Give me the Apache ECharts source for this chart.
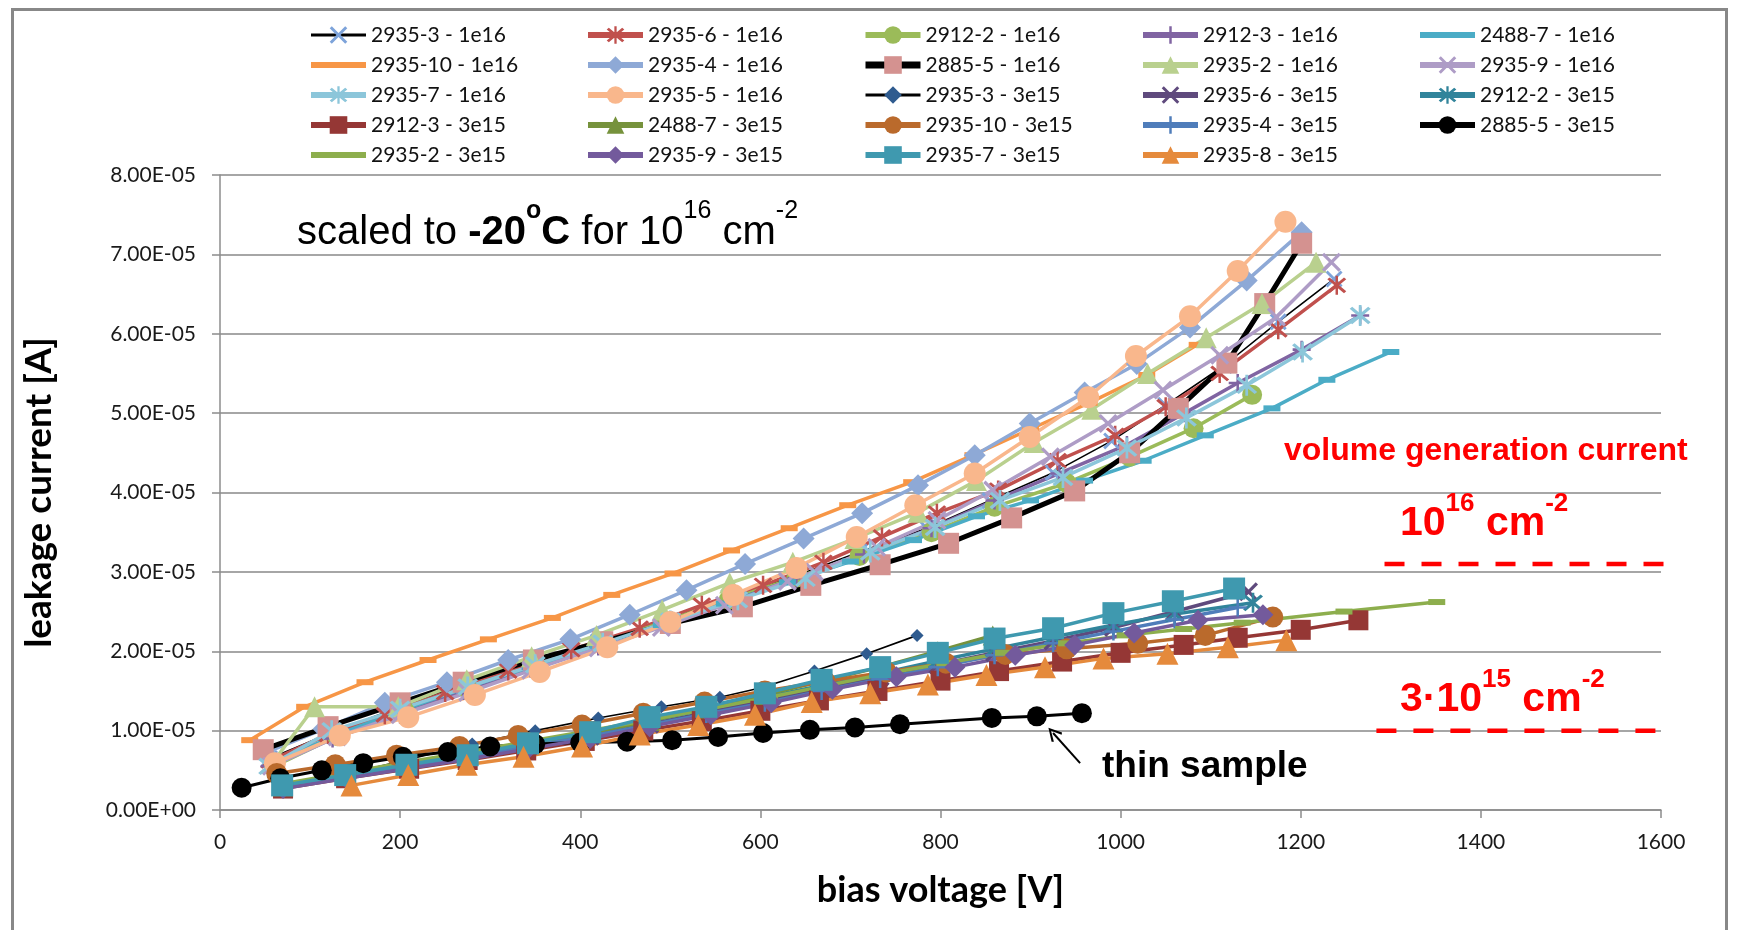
<!DOCTYPE html>
<html>
<head>
<meta charset="utf-8">
<script src="https://cdn.jsdelivr.net/npm/echarts@6/dist/echarts.min.js"></script>
<style>
html,body{margin:0;padding:0;background:#fff;}
#c{width:1739px;height:930px;}
</style>
</head>
<body>
<div id="c"></div>
<script>
// ---- data: [bias voltage V, leakage current in units of 1e-5 A] ----
const d_2935_3_1e16 = [[55,0.65],[125,0.98],[200,1.3],[270,1.57],[345,1.85],[420,2.12],[495,2.4],[565,2.68],[640,2.95],[710,3.25],[785,3.55],[855,3.9],[925,4.25],[990,4.65],[1050,5.1],[1115,5.6],[1175,6.15],[1237,6.69]];
const d_2935_6_1e16 = [[55,0.62],[120,0.95],[183,1.2],[250,1.48],[320,1.75],[390,2.02],[466,2.29],[535,2.58],[603,2.83],[670,3.12],[735,3.44],[796,3.74],[864,4.03],[930,4.4],[994,4.72],[1050,5.08],[1110,5.5],[1175,6.05],[1240,6.61]];
const d_2912_2_1e16 = [[60,0.55],[130,0.93],[205,1.25],[275,1.53],[350,1.82],[425,2.1],[495,2.38],[565,2.65],[640,2.93],[710,3.2],[790,3.5],[860,3.82],[940,4.12],[1010,4.45],[1081,4.81],[1146,5.23]];
const d_2912_3_1e16 = [[55,0.55],[125,0.9],[200,1.2],[270,1.5],[345,1.78],[420,2.06],[495,2.35],[565,2.62],[640,2.92],[715,3.22],[790,3.55],[860,3.9],[932,4.24],[1007,4.6],[1071,5.0],[1130,5.38],[1201,5.8],[1266,6.23]];
const d_2488_7_1e16 = [[60,0.6],[130,0.95],[200,1.25],[270,1.53],[345,1.8],[420,2.07],[490,2.33],[560,2.6],[630,2.87],[700,3.13],[770,3.4],[840,3.7],[900,3.9],[960,4.15],[1025,4.4],[1094,4.72],[1168,5.06],[1229,5.42],[1300,5.77]];
const d_2935_10_1e16 = [[33,0.88],[94,1.3],[161,1.61],[231,1.89],[298,2.15],[369,2.42],[435,2.71],[503,2.98],[568,3.27],[632,3.55],[697,3.84],[768,4.13],[836,4.47],[900,4.8],[965,5.13],[1029,5.48],[1085,5.86]];
const d_2935_4_1e16 = [[50,0.72],[115,1.02],[183,1.35],[252,1.61],[320,1.89],[389,2.15],[455,2.46],[518,2.77],[583,3.1],[648,3.42],[713,3.74],[775,4.09],[838,4.47],[899,4.87],[960,5.26],[1018,5.62],[1077,6.08],[1140,6.67],[1201,7.28]];
const d_2885_5_1e16 = [[48,0.76],[120,1.05],[200,1.35],[270,1.61],[348,1.89],[425,2.12],[500,2.35],[580,2.56],[656,2.83],[733,3.09],[809,3.36],[879,3.68],[949,4.02],[1010,4.5],[1064,5.06],[1118,5.63],[1160,6.38],[1201,7.14]];
const d_2935_2_1e16 = [[58,0.59],[105,1.3],[198,1.3],[274,1.64],[346,1.93],[418,2.2],[491,2.52],[566,2.86],[636,3.12],[705,3.42],[775,3.75],[840,4.15],[904,4.63],[968,5.05],[1030,5.5],[1095,5.95],[1157,6.38],[1217,6.9]];
const d_2935_9_1e16 = [[57,0.55],[130,0.92],[200,1.2],[275,1.48],[345,1.76],[420,2.04],[490,2.3],[560,2.58],[630,2.88],[660,3.0],[729,3.31],[796,3.65],[858,4.03],[922,4.45],[986,4.87],[1047,5.29],[1110,5.73],[1173,6.21],[1234,6.9]];
const d_2935_7_1e16 = [[54,0.55],[124,1.0],[200,1.27],[275,1.55],[350,1.83],[425,2.1],[500,2.38],[575,2.65],[650,2.92],[722,3.25],[794,3.56],[866,3.9],[936,4.19],[1007,4.56],[1073,4.94],[1140,5.35],[1202,5.77],[1266,6.23]];
const d_2935_5_1e16 = [[61,0.59],[133,0.94],[209,1.17],[283,1.45],[355,1.74],[430,2.05],[500,2.37],[570,2.71],[640,3.05],[707,3.44],[772,3.84],[838,4.24],[899,4.7],[964,5.2],[1017,5.72],[1077,6.22],[1130,6.79],[1183,7.41]];
const d_2935_3_3e15 = [[70,0.28],[140,0.45],[210,0.64],[280,0.83],[350,1.0],[420,1.16],[490,1.3],[555,1.42],[601,1.54],[660,1.75],[718,1.97],[774,2.2]];
const d_2935_6_3e15 = [[70,0.3],[140,0.43],[207,0.55],[275,0.67],[342,0.8],[411,0.93],[477,1.08],[540,1.23],[605,1.38],[668,1.53],[733,1.68],[797,1.83],[860,1.98],[925,2.13],[992,2.3],[1060,2.5],[1142,2.75]];
const d_2912_2_3e15 = [[70,0.3],[140,0.45],[207,0.58],[275,0.7],[342,0.83],[411,0.97],[477,1.12],[540,1.27],[605,1.42],[668,1.57],[733,1.72],[797,1.88],[860,2.03],[925,2.18],[992,2.33],[1060,2.47],[1147,2.61]];
const d_2912_3_3e15 = [[70,0.27],[140,0.4],[210,0.52],[275,0.63],[340,0.75],[405,0.87],[470,1.0],[535,1.12],[600,1.25],[665,1.38],[730,1.5],[800,1.63],[865,1.75],[935,1.87],[1000,1.98],[1070,2.08],[1130,2.17],[1200,2.27],[1264,2.39]];
const d_2488_7_3e15 = [[70,0.3],[140,0.43],[207,0.56],[275,0.69],[342,0.83],[411,0.97],[477,1.12],[540,1.28],[605,1.45],[668,1.62],[733,1.8],[797,2.0],[858,2.2]];
const d_2935_10_3e15 = [[63,0.46],[128,0.57],[196,0.69],[266,0.8],[331,0.94],[402,1.07],[470,1.22],[538,1.36],[605,1.5],[672,1.62],[740,1.74],[806,1.85],[872,1.96],[940,2.03],[1019,2.1],[1094,2.2],[1169,2.43]];
const d_2935_4_3e15 = [[70,0.29],[140,0.42],[207,0.55],[275,0.67],[342,0.8],[411,0.93],[477,1.07],[540,1.21],[605,1.35],[668,1.5],[733,1.65],[797,1.8],[860,1.95],[925,2.1],[992,2.25],[1060,2.4],[1130,2.55]];
const d_2885_5_3e15 = [[24,0.28],[67,0.4],[113,0.5],[159,0.59],[203,0.67],[253,0.73],[300,0.8],[350,0.83],[400,0.85],[452,0.86],[502,0.88],[553,0.92],[603,0.97],[655,1.01],[705,1.04],[755,1.08],[857,1.16],[907,1.18],[957,1.22]];
const d_2935_2_3e15 = [[70,0.33],[140,0.47],[205,0.6],[275,0.73],[345,0.87],[410,1.0],[475,1.13],[540,1.27],[610,1.42],[675,1.57],[740,1.72],[805,1.85],[870,1.98],[940,2.1],[1005,2.2],[1070,2.28],[1135,2.36],[1248,2.5],[1351,2.62]];
const d_2935_9_3e15 = [[70,0.27],[140,0.4],[207,0.52],[275,0.64],[342,0.77],[411,0.9],[477,1.05],[545,1.2],[612,1.35],[680,1.52],[751,1.68],[816,1.8],[883,1.95],[949,2.08],[1015,2.23],[1086,2.39],[1158,2.46]];
const d_2935_7_3e15 = [[69,0.31],[139,0.44],[207,0.57],[275,0.69],[342,0.84],[411,0.98],[477,1.17],[540,1.3],[605,1.47],[668,1.64],[733,1.8],[797,1.98],[860,2.16],[925,2.29],[992,2.48],[1058,2.63],[1126,2.79]];
const d_2935_8_3e15 = [[146,0.31],[209,0.44],[274,0.57],[337,0.67],[402,0.8],[466,0.95],[531,1.07],[594,1.2],[657,1.36],[722,1.47],[786,1.58],[851,1.7],[916,1.8],[981,1.91],[1052,1.97],[1119,2.05],[1184,2.14]];

// volume generation current reference levels (1e-5 A) drawn as dashed lines
const volGen_1e16 = [[1293,3.1],[1627,3.1]];
const volGen_3e15 = [[1284,1.0],[1618,1.0]];
// arrow pointing at the thin sample
const thinArrow = [[955,0.59],[925,0.97]];

const xTicks = {min:0, max:1600, interval:200};
const yTicks = {min:0, max:8e-5, interval:1e-5};

// ---- marker shapes ----
const SYM_X = 'path://M0,1.2 L1.2,0 L5,3.8 L8.8,0 L10,1.2 L6.2,5 L10,8.8 L8.8,10 L5,6.2 L1.2,10 L0,8.8 L3.8,5 Z';
const SYM_STAR = 'path://M0,1.2 L1.2,0 L5,3.8 L8.8,0 L10,1.2 L6.2,5 L10,8.8 L8.8,10 L5,6.2 L1.2,10 L0,8.8 L3.8,5 Z M4.35,-1 L5.65,-1 L5.65,11 L4.35,11 Z';
const SYM_PLUS = 'path://M4.3,0 L5.7,0 L5.7,4.3 L10,4.3 L10,5.7 L5.7,5.7 L5.7,10 L4.3,10 L4.3,5.7 L0,5.7 L0,4.3 L4.3,4.3 Z';
const SYM_DASH = 'path://M0,0 L10,0 L10,4 L0,4 Z';
const ICON_LINE = 'path://M0,0 L55,0 L55,6 L0,6 Z';

const S = 1e-5;
function conv(d){ return d.map(p => [p[0], p[1]*S]); }

// name, data, line color, marker color, symbol, symbol size, line width, legend line width
const seriesDefs = [
  ['2935-3 - 1e16', d_2935_3_1e16, '#000000', '#7DA3DA', SYM_X, 17, 1.6, 3],
  ['2935-6 - 1e16', d_2935_6_1e16, '#C0504D', '#C0504D', SYM_STAR, 19, 3.5, 6],
  ['2912-2 - 1e16', d_2912_2_1e16, '#9BBB59', '#9BBB59', 'circle', 20, 3.5, 6],
  ['2912-3 - 1e16', d_2912_3_1e16, '#8064A2', '#8064A2', SYM_PLUS, 18, 3.5, 6],
  ['2488-7 - 1e16', d_2488_7_1e16, '#4BACC6', '#4BACC6', SYM_DASH, [17,6], 3.5, 6],
  ['2935-10 - 1e16', d_2935_10_1e16, '#F79646', '#F79646', SYM_DASH, [17,6], 3.5, 6],
  ['2935-4 - 1e16', d_2935_4_1e16, '#8EA9D6', '#8EA9D6', 'diamond', 22, 3.5, 6],
  ['2885-5 - 1e16', d_2885_5_1e16, '#000000', '#D49290', 'rect', 21, 5, 7],
  ['2935-2 - 1e16', d_2935_2_1e16, '#B9D08E', '#B9D08E', 'triangle', 21, 3.5, 6],
  ['2935-9 - 1e16', d_2935_9_1e16, '#AE9CC6', '#AE9CC6', SYM_X, 19, 3.5, 6],
  ['2935-7 - 1e16', d_2935_7_1e16, '#8CC6DA', '#8CC6DA', SYM_STAR, 21, 3.5, 6],
  ['2935-5 - 1e16', d_2935_5_1e16, '#F9B78C', '#F9B78C', 'circle', 22, 3.5, 6],
  ['2935-3 - 3e15', d_2935_3_3e15, '#000000', '#2F5B8F', 'diamond', 13, 1.6, 3],
  ['2935-6 - 3e15', d_2935_6_3e15, '#5F4A7D', '#5F4A7D', SYM_X, 19, 3.5, 6],
  ['2912-2 - 3e15', d_2912_2_3e15, '#31849B', '#31849B', SYM_STAR, 20, 3.5, 6],
  ['2912-3 - 3e15', d_2912_3_3e15, '#953735', '#953735', 'rect', 20, 3.5, 6],
  ['2488-7 - 3e15', d_2488_7_3e15, '#76923C', '#76923C', 'triangle', 20, 3.5, 6],
  ['2935-10 - 3e15', d_2935_10_3e15, '#BA6A2C', '#BA6A2C', 'circle', 21, 3.5, 6],
  ['2935-4 - 3e15', d_2935_4_3e15, '#4F7DBA', '#4F7DBA', SYM_PLUS, 18, 3.5, 6],
  ['2885-5 - 3e15', d_2885_5_3e15, '#000000', '#000000', 'circle', 20, 3, 6],
  ['2935-2 - 3e15', d_2935_2_3e15, '#8DAE4D', '#8DAE4D', SYM_DASH, [17,6], 3.5, 6],
  ['2935-9 - 3e15', d_2935_9_3e15, '#735A9C', '#735A9C', 'diamond', 21, 3.5, 6],
  ['2935-7 - 3e15', d_2935_7_3e15, '#3F99AF', '#3F99AF', 'rect', 22, 3.5, 6],
  ['2935-8 - 3e15', d_2935_8_3e15, '#E58A3C', '#E58A3C', 'triangle', 22, 3.5, 6]
];

const legendCols = [
  ['2935-3 - 1e16','2935-10 - 1e16','2935-7 - 1e16','2912-3 - 3e15','2935-2 - 3e15'],
  ['2935-6 - 1e16','2935-4 - 1e16','2935-5 - 1e16','2488-7 - 3e15','2935-9 - 3e15'],
  ['2912-2 - 1e16','2885-5 - 1e16','2935-3 - 3e15','2935-10 - 3e15','2935-7 - 3e15'],
  ['2912-3 - 1e16','2935-2 - 1e16','2935-6 - 3e15','2935-4 - 3e15','2935-8 - 3e15'],
  ['2488-7 - 1e16','2935-9 - 1e16','2912-2 - 3e15','2885-5 - 3e15']
];
const legendLeft = [303, 580, 857, 1135, 1412];

function sci(v){
  if (v === 0) return '0.00E+00';
  const e = Math.floor(Math.log10(Math.abs(v)) + 1e-9);
  const m = v / Math.pow(10, e);
  return m.toFixed(2) + 'E' + (e < 0 ? '-' : '+') + String(Math.abs(e)).padStart(2, '0');
}

const defByName = {};
seriesDefs.forEach(d => { defByName[d[0]] = d; });

const series = seriesDefs.map(d => ({
  name: d[0], type: 'line', data: conv(d[1]),
  symbol: d[4], symbolSize: d[5], showSymbol: true,
  lineStyle: {color: d[2], width: d[6]},
  itemStyle: {color: d[3]},
  emphasis: {disabled: true},
  z: 3
}));

const dashStyle = {color:'#FF0000', width:4.5, type:[20,17]};
series.push({name:'vg16', type:'line', data: conv(volGen_1e16), symbol:'none', clip:false, lineStyle: dashStyle, z:4, silent:true});
series.push({name:'vg15', type:'line', data: conv(volGen_3e15), symbol:'none', clip:false, lineStyle: dashStyle, z:4, silent:true});
series.push({name:'arrow', type:'line', data: [], silent:true,
  markLine: {silent:true, symbol:['none','path://M5,0 L10,9 L8.7,10 L5,2.8 L1.3,10 L0,9 Z'], symbolSize:[14,14],
    lineStyle:{color:'#000', width:2, type:'solid'}, label:{show:false},
    data:[[{coord: conv(thinArrow)[0]}, {coord: conv(thinArrow)[1]}]]}});

const legends = legendCols.map((col, i) => ({
  data: col.map(n => {
    const d = defByName[n];
    const item = {name: n, lineStyle: {width: d[7], color: d[2]}};
    if (d[4] === SYM_DASH) { item.icon = ICON_LINE; item.itemStyle = {color: d[2]}; }
    return item;
  }),
  orient: 'vertical', left: legendLeft[i], top: 19,
  itemWidth: 55, itemHeight: 22, itemGap: 8, symbolKeepAspect: true,
  textStyle: {fontFamily: 'Lato', fontSize: 21, color: '#111', lineHeight: 22},
  selectedMode: false
}));

const chart = echarts.init(document.getElementById('c'), null, {renderer: 'canvas'});
chart.setOption({
  animation: false,
  backgroundColor: '#fff',
  legend: legends,
  grid: {left: 220, right: 78, top: 175, bottom: 120, containLabel: false},
  xAxis: {
    type: 'value', min: xTicks.min, max: xTicks.max, interval: xTicks.interval,
    axisLine: {show: true, lineStyle: {color: '#8C8C8C', width: 1.5}},
    axisTick: {show: true, length: 8, lineStyle: {color: '#8C8C8C', width: 1.5}},
    splitLine: {show: false},
    axisLabel: {fontFamily: 'Lato', fontSize: 21, color: '#1a1a1a', margin: 22, formatter: v => String(v)},
    name: 'bias voltage [V]', nameLocation: 'middle', nameGap: 62,
    nameTextStyle: {fontFamily: 'Lato', fontWeight: 'bold', fontSize: 36, color: '#000'}
  },
  yAxis: {
    type: 'value', min: yTicks.min, max: yTicks.max, interval: yTicks.interval,
    axisLine: {show: true, lineStyle: {color: '#8C8C8C', width: 1.5}},
    axisTick: {show: true, length: 8, lineStyle: {color: '#8C8C8C', width: 1.5}},
    splitLine: {show: true, lineStyle: {color: '#A6A6A6', width: 1.8}},
    axisLabel: {fontFamily: 'Lato', fontSize: 21, color: '#1a1a1a', margin: 24, formatter: sci},
    name: 'leakage current [A]', nameLocation: 'middle', nameGap: 162, nameRotate: 90,
    nameTextStyle: {fontFamily: 'Lato', fontWeight: 'bold', fontSize: 37, color: '#000'}
  },
  graphic: [
    {type: 'rect', left: 10, top: 7, shape: {width: 1714, height: 960}, style: {fill: 'none', stroke: '#888', lineWidth: 3}, silent: true, z: 0},
    {type: 'text', left: 297, top: 199, z: 10, style: {
      text: '{a|scaled to }{b|-20}{bs|o}{b|C}{a| for 10}{s|16}{a| cm}{s|-2}',
      rich: {
        a: {fontFamily: 'Liberation Sans, Arial', fontSize: 40, fill: '#000', verticalAlign: 'bottom', lineHeight: 54},
        b: {fontFamily: 'Liberation Sans, Arial', fontSize: 40, fontWeight: 'bold', fill: '#000', verticalAlign: 'bottom', lineHeight: 54},
        bs: {fontFamily: 'Liberation Sans, Arial', fontSize: 25, fontWeight: 'bold', fill: '#000', verticalAlign: 'top', lineHeight: 54},
        s: {fontFamily: 'Liberation Sans, Arial', fontSize: 25, fill: '#000', verticalAlign: 'top', lineHeight: 54}
      }}},
    {type: 'text', left: 1284, top: 435, z: 10, style: {text: 'volume generation current', fontFamily: 'Liberation Sans, Arial', fontSize: 32, fontWeight: 'bold', fill: '#FF0000'}},
    {type: 'text', left: 1400, top: 491, z: 10, style: {
      text: '{a|10}{s|16}{a| cm}{s|-2}',
      rich: {
        a: {fontFamily: 'Liberation Sans, Arial', fontSize: 41, fontWeight: 'bold', fill: '#FF0000', verticalAlign: 'bottom', lineHeight: 53},
        s: {fontFamily: 'Liberation Sans, Arial', fontSize: 26, fontWeight: 'bold', fill: '#FF0000', verticalAlign: 'top', lineHeight: 53}
      }}},
    {type: 'text', left: 1400, top: 667, z: 10, style: {
      text: '{a|3·10}{s|15}{a| cm}{s|-2}',
      rich: {
        a: {fontFamily: 'Liberation Sans, Arial', fontSize: 41, fontWeight: 'bold', fill: '#FF0000', verticalAlign: 'bottom', lineHeight: 53},
        s: {fontFamily: 'Liberation Sans, Arial', fontSize: 26, fontWeight: 'bold', fill: '#FF0000', verticalAlign: 'top', lineHeight: 53}
      }}},
    {type: 'text', left: 1102, top: 748, z: 10, style: {text: 'thin sample', fontFamily: 'Liberation Sans, Arial', fontSize: 37, fontWeight: 'bold', fill: '#000'}}
  ],
  series: series
});
</script>
</body>
</html>
